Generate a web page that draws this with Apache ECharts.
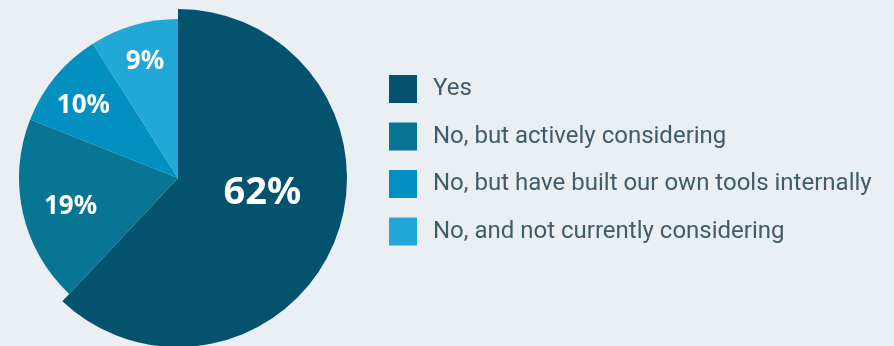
<!DOCTYPE html>
<html>
<head>
<meta charset="utf-8">
<script src="https://cdn.jsdelivr.net/npm/echarts@6/dist/echarts.min.js"></script>
<style>
  html, body { margin: 0; padding: 0; background: #e9eff2; }
  #chart { width: 894px; height: 346px; }
</style>
</head>
<body>
<div id="chart"></div>
<script>
// Survey answers and their shares (percent)
const categories = [
  'Yes',
  'No, but actively considering',
  'No, but have built our own tools internally',
  'No, and not currently considering'
];
const shares = [62, 19, 10, 9];
const colors = ['#03536f', '#087594', '#0190bf', '#21a8d6'];

// Nudges for the in-slice percentage labels
const labelNudge = [[3, -17], [-27, 11], [-31, -20], [-10, -37]];

const FONT = '"Source Sans Pro", Roboto, "Noto Sans", sans-serif';
const hidden = { color: 'transparent' };

// The "Yes" slice sits on a slightly larger disc than the rest
const bigRest = shares.slice(1).reduce((a, b) => a + b, 0);
const bigData = [
  { name: categories[0], value: shares[0], itemStyle: { color: colors[0] } },
  { name: '__restOuter', value: bigRest, itemStyle: hidden, label: { show: false }, emphasis: { disabled: true } }
];
const smallData = [
  { name: '__restInner', value: shares[0], itemStyle: hidden, label: { show: false }, emphasis: { disabled: true } }
].concat(categories.slice(1).map((c, i) => ({
  name: c, value: shares[i + 1], itemStyle: { color: colors[i + 1] }
})));

const labelBase = {
  show: true,
  position: 'inside',
  color: '#ffffff',
  fontFamily: '"Noto Sans", sans-serif',
  fontWeight: 'bold',
  formatter: p => p.value + '%'
};

const chart = echarts.init(document.getElementById('chart'), null, { renderer: 'canvas' });
chart.setOption({
  animation: false,
  backgroundColor: '#e9eff2',
  legend: {
    data: categories,
    orient: 'vertical',
    left: 389,
    top: 75,
    padding: 0,
    itemWidth: 28,
    itemHeight: 28,
    itemGap: 19.5,
    icon: 'rect',
    selectedMode: false,
    textStyle: {
      color: '#3f5c6c', fontSize: 24, fontFamily: FONT,
      padding: [3, 0, 0, 11]
    }
  },
  series: [
    {
      type: 'pie',
      center: [178, 178],
      radius: 169,
      startAngle: 90,
      data: bigData,
      label: Object.assign({}, labelBase, { fontSize: 38 }),
      labelLine: { show: false },
      labelLayout: p => ({ dx: labelNudge[0][0], dy: labelNudge[0][1] })
    },
    {
      type: 'pie',
      center: [178, 178],
      radius: 159,
      startAngle: 90,
      data: smallData,
      label: Object.assign({}, labelBase, { fontSize: 26 }),
      labelLine: { show: false },
      labelLayout: p => ({ dx: labelNudge[p.dataIndex][0], dy: labelNudge[p.dataIndex][1] })
    }
  ]
});
</script>
</body>
</html>
